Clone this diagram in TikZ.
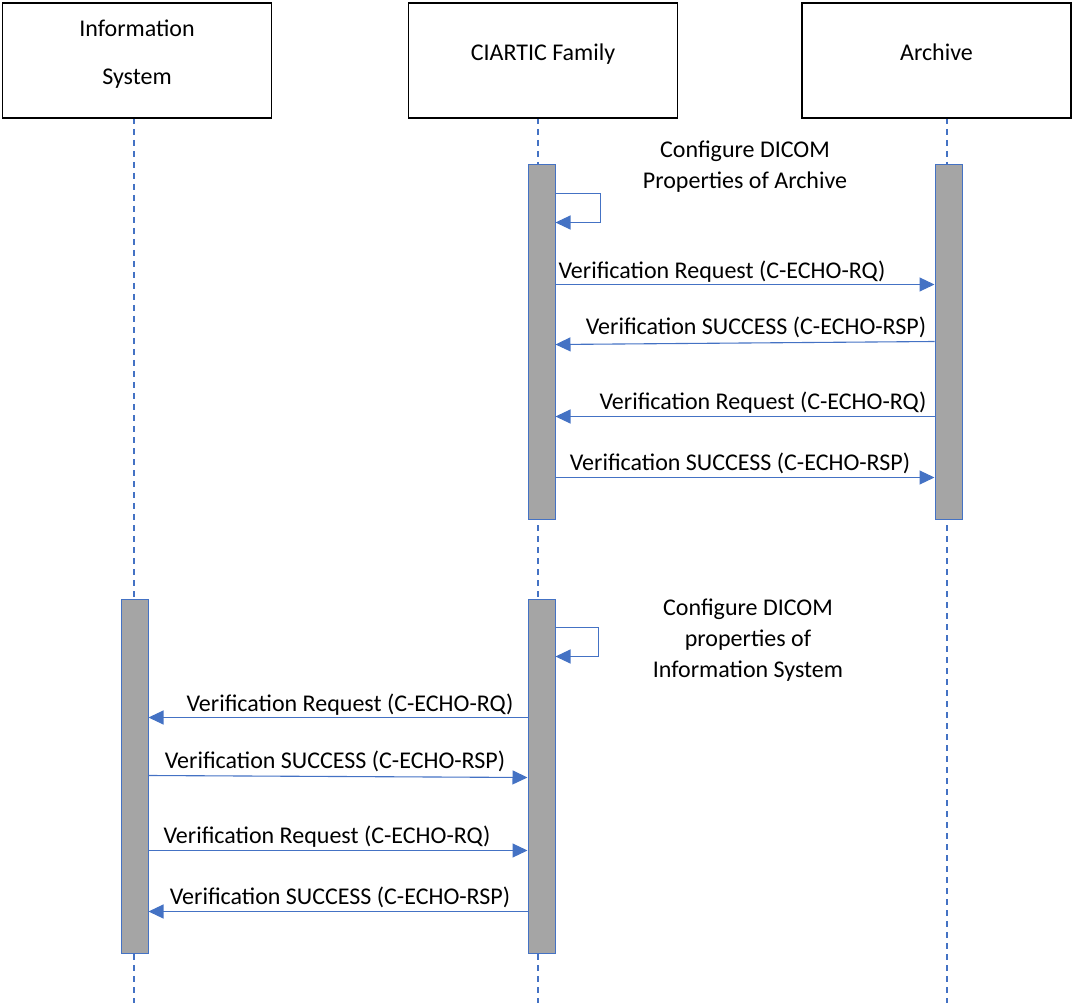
\documentclass[tikz,border=0pt]{standalone}
\usepackage{fontspec}
\setmainfont{Carlito}
\usepackage{tikz}
\usetikzlibrary{positioning,arrows.meta,calc}

\definecolor{msgblue}{HTML}{4472C4}
\definecolor{bargray}{HTML}{A5A5A5}

\tikzset{
  actor/.style={draw=black, line width=1.8pt, fill=white, minimum width=269pt,
    minimum height=115pt, align=center, text depth=17pt, font=\fontsize{24}{30}\selectfont},
  lifeline/.style={draw=msgblue, line width=1.3pt, dash pattern=on 6pt off 5pt},
  bar/.style={draw=msgblue, line width=1pt, fill=bargray, minimum width=27pt,
    minimum height=354pt, inner sep=0pt},
  msg/.style={draw=msgblue, line width=1.1pt, -{Triangle[length=15pt,width=14pt]}},
  lbl/.style={anchor=base, inner sep=0pt, font=\fontsize{24}{30}\selectfont},
  note/.style={align=center, inner sep=0pt, font=\fontsize{24}{31}\selectfont}
}

\begin{document}
\begin{tikzpicture}[x=1pt, y=-1pt]
            \useasboundingbox (0,0) rectangle (1072,1003);

            % Draw the lifelines
            \coordinate (infoEnd) at (134,1003);
            \coordinate (ciaEnd) at (538,1003);
            \coordinate (arcEnd) at (947,1003);
            \draw[lifeline] (134,118) -- (infoEnd);
            \draw[lifeline] (538,118) -- (ciaEnd);
            \draw[lifeline] (947,118) -- (arcEnd);

            % Draw the participants
            \node[actor] (info) at (137,60.5) {Information\\[18pt]System};
            \node[actor] (cia) at (543,60.5) {CIARTIC Family};
            \node[actor] (arc) at (936.5,60.5) {Archive};

            % Draw the activation bars
            \node[bar] (ciaTop) at (541.5,342) {};
            \node[bar] (arcTop) at (948.5,342) {};
            \node[bar] (infoBot) at (134.5,776) {};
            \node[bar] (ciaBot) at (541.5,776) {};

            % Draw the first self call
            \draw[msg] ([yshift=-29pt]ciaTop.north east) -- ++(45,0) -- ++(0,29)
                -- ([yshift=-58pt]ciaTop.north east);
            \node[note] (conf1) at (745,167) {Configure DICOM\\Properties of Archive};

            % Draw the echo with the archive
            \draw[msg] ([yshift=-120pt]ciaTop.north east) -- ([yshift=-120pt]arcTop.north west)
                node[lbl, midway, xshift=-23pt, yshift=6pt] {Verification Request (C-ECHO-RQ)};
            \draw[msg] ([yshift=-177pt]arcTop.north west) -- ([yshift=-180pt]ciaTop.north east)
                node[lbl, midway, xshift=11pt, yshift=8pt] {Verification SUCCESS (C-ECHO-RSP)};
            \draw[msg] ([yshift=-252pt]arcTop.north west) -- ([yshift=-252pt]ciaTop.north east)
                node[lbl, midway, xshift=18pt, yshift=7pt] {Verification Request (C-ECHO-RQ)};
            \draw[msg] ([yshift=-313pt]ciaTop.north east) -- ([yshift=-313pt]arcTop.north west)
                node[lbl, midway, xshift=-5pt, yshift=7pt] {Verification SUCCESS (C-ECHO-RSP)};

            % Draw the second self call
            \draw[msg] ([yshift=-29pt]ciaBot.north east) -- ++(43,0) -- ++(0,29)
                -- ([yshift=-58pt]ciaBot.north east);
            \node[note] (conf2) at (748,640) {Configure DICOM\\properties of\\Information System};

            % Draw the echo with the information system
            \draw[msg] ([yshift=-119pt]ciaBot.north west) -- ([yshift=-119pt]infoBot.north east)
                node[lbl, midway, xshift=12pt, yshift=6pt] {Verification Request (C-ECHO-RQ)};
            \draw[msg] ([yshift=-177pt]infoBot.north east) -- ([yshift=-179pt]ciaBot.north west)
                node[lbl, midway, xshift=-3pt, yshift=8pt] {Verification SUCCESS (C-ECHO-RSP)};
            \draw[msg] ([yshift=-252pt]infoBot.north east) -- ([yshift=-252pt]ciaBot.north west)
                node[lbl, midway, xshift=-11pt, yshift=7pt] {Verification Request (C-ECHO-RQ)};
            \draw[msg] ([yshift=-313pt]ciaBot.north west) -- ([yshift=-313pt]infoBot.north east)
                node[lbl, midway, xshift=2pt, yshift=7pt] {Verification SUCCESS (C-ECHO-RSP)};
        \end{tikzpicture}
\end{document}
